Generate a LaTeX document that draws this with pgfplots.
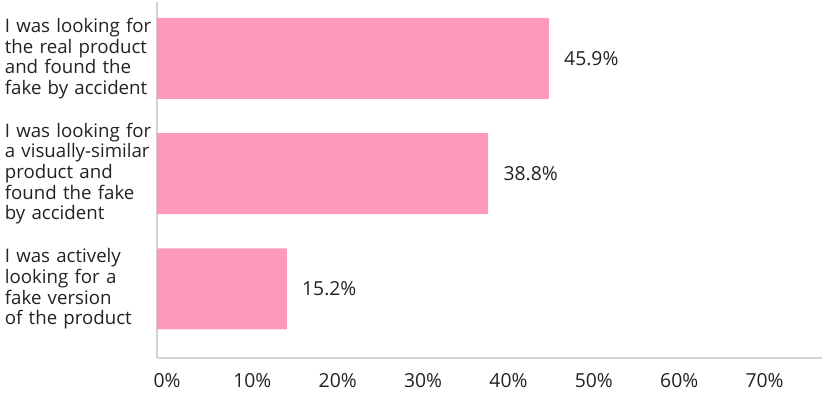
\documentclass[border=0pt]{standalone}
\usepackage{pgfplots}
\pgfplotsset{compat=1.18}
\usepackage{fontspec}
\setmainfont{Open Sans}
\definecolor{barpink}{RGB}{255,153,187}
\definecolor{axgray}{RGB}{210,210,210}
\definecolor{txt}{RGB}{34,34,34}
\begin{document}
\begin{tikzpicture}
\begin{axis}[
  scale only axis, width=498.75pt, height=267pt,
  xbar, bar width=60.75pt,
  xmin=0, xmax=77.9,
  ymin=-0.49, ymax=2.6, y dir=reverse,
  axis lines=left, axis line style={axgray, line width=0.8pt, -},
  tick style={draw=none},
  xtick={0,10,...,70},
  xticklabel={\pgfmathprintnumber{\tick}\%},
  /pgf/number format/assume math mode=true,
  xticklabel style={font=\fontsize{14.5}{16}\selectfont, text=txt, xshift=7.5pt, yshift=-6pt},
  ytick={0,1,2},
  yticklabels={{I was looking for\\the real product\\and found the\\fake by accident},
               {I was looking for\\a visually-similar\\product and\\found the fake\\by accident},
               {I was actively\\looking for a\\fake version\\of the product}},
  yticklabel style={font=\fontsize{14}{15.5}\selectfont, text=txt, align=left, text width=111pt, inner xsep=0pt, anchor=east, xshift=-0.75pt},
  nodes near coords={\pgfmathprintnumber[fixed,fixed zerofill,precision=1]{\pgfplotspointmeta}\%},
  nodes near coords style={font=\fontsize{14.5}{16}\selectfont, text=txt, anchor=west, xshift=8pt},
  point meta=x,
]
\addplot[fill=barpink, draw=none] coordinates {(45.9,0) (38.8,1) (15.2,2)};
\coordinate (bl) at ([xshift=-117.75pt,yshift=-33pt]rel axis cs:0,0);
\coordinate (tr) at ([xshift=0.75pt,yshift=1.5pt]rel axis cs:1,1);
\end{axis}
\pgfresetboundingbox
\path[use as bounding box] (bl) rectangle (tr);
\end{tikzpicture}
\end{document}
